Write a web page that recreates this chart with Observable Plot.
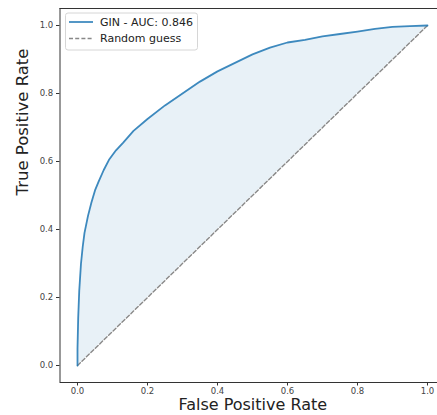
<!DOCTYPE html>
<html>
<head>
<meta charset="utf-8">
<script src="https://cdn.jsdelivr.net/npm/d3@7"></script>
<script src="https://cdn.jsdelivr.net/npm/@observablehq/plot@0.6"></script>
<style>
  html, body { margin: 0; padding: 0; background: #fff; }
  svg { display: block; }
</style>
</head>
<body>
<div id="chart"></div>
<script>
// ROC curve
const fpr = [0, 0, 0.002, 0.005, 0.01, 0.015, 0.02, 0.03, 0.04, 0.05, 0.06, 0.075, 0.09, 0.11, 0.13, 0.16, 0.2, 0.25, 0.3, 0.35, 0.4, 0.45, 0.5, 0.55, 0.6, 0.65, 0.7, 0.75, 0.8, 0.85, 0.9, 0.95, 1.0];
const tpr = [0, 0.05, 0.14, 0.22, 0.3, 0.35, 0.39, 0.44, 0.48, 0.515, 0.54, 0.575, 0.605, 0.633, 0.655, 0.69, 0.725, 0.765, 0.8, 0.835, 0.865, 0.89, 0.915, 0.935, 0.95, 0.958, 0.968, 0.975, 0.982, 0.99, 0.996, 0.998, 1.0];
const diagX = [0, 1];
const diagY = [0, 1];
const ticks = [0, 0.2, 0.4, 0.6, 0.8, 1.0];
const seriesLabel = "GIN - AUC: 0.846";
const randomLabel = "Random guess";
const xLabel = "False Positive Rate";
const yLabel = "True Positive Rate";

const xDomain = [-0.05, 1.0286];
const yDomain = [-0.05, 1.05];

const roc = fpr.map((x, i) => ({x, y: tpr[i]}));
const diag = diagX.map((x, i) => ({x, y: diagY[i]}));

const C0 = "#1f77b4";
const font = "DejaVu Sans, sans-serif";

const plot = Plot.plot({
  width: 437,
  height: 415,
  marginLeft: 59.5,
  marginRight: 0,
  marginTop: 8,
  marginBottom: 33,
  style: {fontFamily: font, background: "#fff", color: "#333"},
  x: {domain: xDomain},
  y: {domain: yDomain},
  marks: [
    Plot.areaY(roc, {x: "x", y1: d => d.x, y2: "y", fill: C0, fillOpacity: 0.1, curve: "linear"}),
    Plot.line(diag, {x: "x", y: "y", stroke: "#888", strokeWidth: 1.4, strokeDasharray: "4,2.2"}),
    Plot.line(roc, {x: "x", y: "y", stroke: C0, strokeWidth: 1.8, strokeOpacity: 0.85}),
    Plot.ruleX([xDomain[0]], {stroke: "#333", strokeWidth: 1}),
    Plot.ruleY([yDomain[0]], {stroke: "#333", strokeWidth: 1}),
    Plot.ruleY([yDomain[1]], {stroke: "#333", strokeWidth: 1}),
    Plot.axisX({ticks, tickFormat: d3.format(".1f"), tickSize: 3.5, tickPadding: 2.2, fontSize: 8.5, label: null, stroke: "#333", color: "#444"}),
    Plot.axisY({ticks, tickFormat: d3.format(".1f"), tickSize: 3.5, tickPadding: 3.3, fontSize: 8.5, label: null, stroke: "#333", color: "#444"}),
    Plot.text([xLabel], {frameAnchor: "bottom", dx: 4, dy: 27, fontSize: 16, fill: "#222", text: d => d}),
    Plot.text([yLabel], {frameAnchor: "left", rotate: -90, dx: -37.5, fontSize: 16.5, fill: "#222", text: d => d})
  ]
});

document.getElementById("chart").appendChild(plot);

// Legend (matplotlib style) inside the plot area
const svg = d3.select(plot);
const lg = svg.append("g").attr("font-family", font).attr("font-size", 11).attr("text-anchor", "start");
lg.append("rect").attr("x", 65.5).attr("y", 13).attr("width", 132).attr("height", 37)
  .attr("rx", 2.5).attr("fill", "#fff").attr("fill-opacity", 0.8).attr("stroke", "#d6d6d6");
lg.append("line").attr("x1", 69).attr("x2", 93).attr("y1", 22).attr("y2", 22)
  .attr("stroke", C0).attr("stroke-width", 1.8).attr("stroke-opacity", 0.85);
lg.append("line").attr("x1", 69).attr("x2", 93).attr("y1", 38.5).attr("y2", 38.5)
  .attr("stroke", "#888").attr("stroke-width", 1.4).attr("stroke-dasharray", "4,2.2");
lg.append("text").attr("x", 100).attr("y", 22).attr("dy", "0.35em").attr("fill", "#222").attr("text-anchor", "start").text(seriesLabel);
lg.append("text").attr("x", 100).attr("y", 38.5).attr("dy", "0.35em").attr("fill", "#222").attr("text-anchor", "start").text(randomLabel);
</script>
</body>
</html>
